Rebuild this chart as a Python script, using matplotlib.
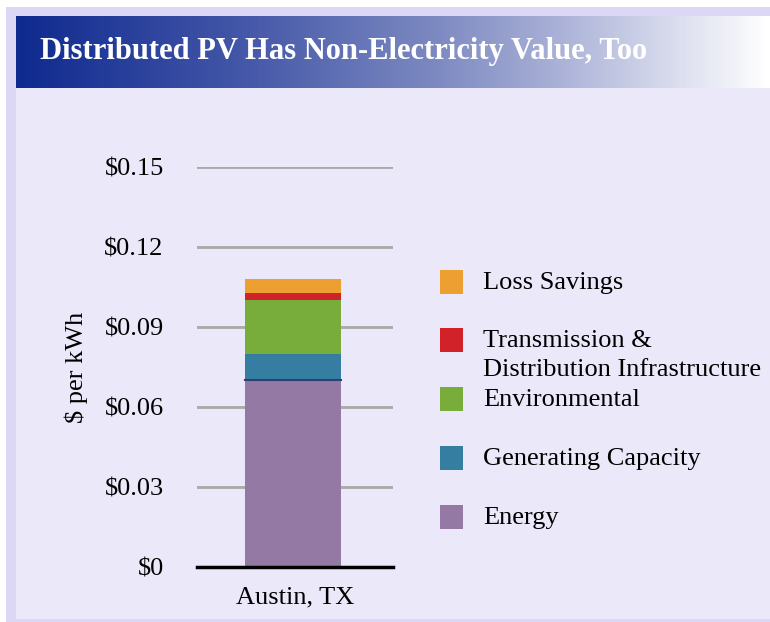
import numpy as np
import matplotlib.pyplot as plt
from matplotlib.colors import LinearSegmentedColormap
from matplotlib.patches import Rectangle

city = ['Austin, TX']
series = ['Energy', 'Generating Capacity', 'Environmental',
          'Transmission &\nDistribution Infrastructure', 'Loss Savings']
values = [0.070, 0.010, 0.020, 0.0027, 0.0053]
colors = ['#9379a3', '#357ea2', '#78ad3b', '#d22229', '#ed9f32']
yticks = [0, 0.03, 0.06, 0.09, 0.12, 0.15]
yticklabels = ['$0', '$0.03', '$0.06', '$0.09', '$0.12', '$0.15']

plt.rcParams['font.family'] = ['Liberation Serif', 'DejaVu Serif']
plt.rcParams['mathtext.default'] = 'regular'

W, H = 770, 622
fig = plt.figure(figsize=(W / 100, H / 100), dpi=100, facecolor='white')

def px(x0, y0, x1, y1):
    # pixel box (top-left origin) -> figure fraction rect
    return [x0 / W, 1 - y1 / H, (x1 - x0) / W, (y1 - y0) / H]

# frame and panel
fig.add_artist(Rectangle((6 / W, 0), 1, 1 - 7 / H, transform=fig.transFigure,
                         facecolor='#dbd7f5', edgecolor='none', zorder=-3))
fig.add_artist(Rectangle((16 / W, 3 / H), 1, 1 - 91 / H, transform=fig.transFigure,
                         facecolor='#ebe8fa', edgecolor='none', zorder=-2))

# title band with gradient
tax = fig.add_axes(px(16, 16, 770, 88))
grad = LinearSegmentedColormap.from_list('band', [(0, '#0f2a8f'), (0.3, '#4457a8'),
                                                  (0.55, '#7b88c0'), (0.72, '#aab1d7'),
                                                  (1.0, '#ffffff')])
tax.imshow(np.linspace(0, 1, 300)[None, :], aspect='auto', cmap=grad, extent=[0, 1, 0, 1])
tax.set_axis_off()
tax.text(24 / 754, 0.5, 'Distributed PV Has Non-Electricity Value, Too', color='white',
         fontsize=22, fontweight='bold', va='center', ha='left', transform=tax.transAxes)

# chart
ax = fig.add_axes(px(197, 167, 393, 567))
ax.set_facecolor('none')
bottom = 0
for v, c in zip(values, colors):
    ax.bar(-0.01, v, width=0.49, bottom=bottom, color=c, zorder=3)
    bottom += v
ax.axhline(values[0], xmin=0.245, xmax=0.735, color='#2d3f75', lw=1.5, zorder=4)
ax.set_xlim(-0.5, 0.5)
ax.set_ylim(0, 0.15)
ax.set_yticks(yticks)
ax.set_yticklabels(yticklabels, fontsize=19)
ax.set_xticks([0])
ax.set_xticklabels(city, fontsize=19)
ax.tick_params(axis='y', length=0, pad=24)
ax.tick_params(axis='x', length=0, pad=14)
for s in ['top', 'right', 'left']:
    ax.spines[s].set_visible(False)
ax.spines['bottom'].set_linewidth(2.5)
ax.spines['bottom'].set_zorder(5)
ax.grid(axis='y', color='#a8a8a8', lw=2, zorder=1)
ax.set_axisbelow(True)
ax.set_ylabel('$ per kWh', fontsize=19, labelpad=12)

# legend drawn by hand (top item first)
legend_y = [282, 340, 399, 458, 517]
for yc, name, c in zip(legend_y, series[::-1], colors[::-1]):
    fig.add_artist(Rectangle((440 / W, 1 - (yc + 12) / H), 23 / W, 24 / H,
                             transform=fig.transFigure, facecolor=c, edgecolor='none'))
    fig.text(483 / W, 1 - (yc + 1) / H, name.split('\n')[0], fontsize=19,
             va='center', ha='left')
    if '\n' in name:
        fig.text(483 / W, 1 - (yc + 30) / H, name.split('\n')[1], fontsize=19,
                 va='center', ha='left')

fig.savefig('out.png', dpi=100, facecolor='white')
